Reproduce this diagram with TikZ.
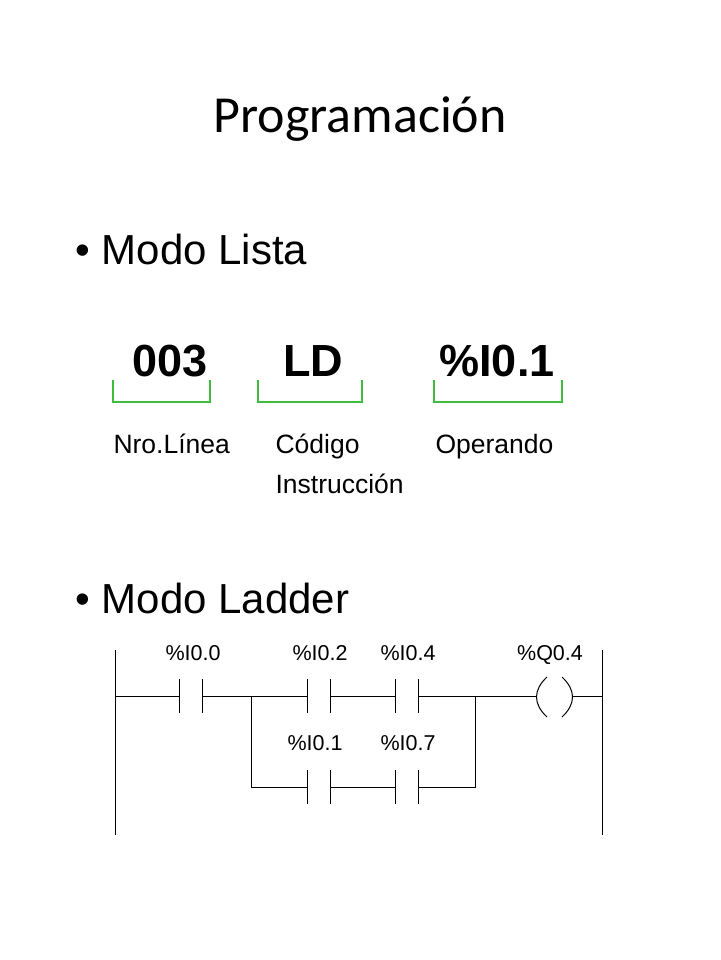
\documentclass[tikz,border=0pt]{standalone}
\usepackage{fontspec}
\setmainfont{Liberation Sans}
\newfontfamily\titlefont{Carlito}
\definecolor{brk}{RGB}{60,190,60}
\begin{document}
\begin{tikzpicture}[x=1pt,y=-1pt,
  brack/.style={draw=brk,line width=2.5pt},
  wire/.style={draw=black,line width=1pt},
  lbl/.style={font=\fontsize{21.5}{24}\selectfont,anchor=base},
  sub/.style={font=\fontsize{26.5}{30}\selectfont,anchor=base west},
  big/.style={font=\fontsize{45}{50}\selectfont\bfseries,anchor=base}]
\useasboundingbox (0,0) rectangle (720,960);
\node[font=\titlefont\fontsize{52}{60}\selectfont,anchor=base] (title) at (360,133) {Programación};
\node[font=\fontsize{42}{48}\selectfont,anchor=base west] (b1) at (72,264) {\textbullet\ Modo Lista};
\node[font=\fontsize{42}{48}\selectfont,anchor=base west] (b2) at (72,613) {\textbullet\ Modo Ladder};
\node[big] (n1) at (170,376) {003};
\node[big] (n2) at (313,376) {LD};
\node[big] (n3) at (497,376) {\%I0.1};
\draw[brack] (113,380) |- (210,402) -- (210,380);
\draw[brack] (258,380) |- (362,402) -- (362,380);
\draw[brack] (434,380) |- (562,402) -- (562,380);
\node[sub] (s1) at (110,453) {Nro.Línea};
\node[sub] (s2) at (272,453) {Código};
\node[sub] (s3) at (272,493) {Instrucción};
\node[sub] (s4) at (432,453) {Operando};
% ladder
\coordinate (L1) at (115,650); \coordinate (L2) at (115,835);
\coordinate (R1) at (602,650); \coordinate (R2) at (602,835);
\draw[wire] (L1) -- (L2); \draw[wire] (R1) -- (R2);
\newcommand\contact[3]{\draw[wire] (#1,#2-17) -- (#1,#2+17); \draw[wire] (#1+23,#2-17) -- (#1+23,#2+17);}
\contact{179}{696}{} \contact{307}{696}{} \contact{395}{696}{}
\contact{307}{787}{} \contact{395}{787}{}
\draw[wire] (115,696) -- (179,696) (202,696) -- (307,696) (330,696) -- (395,696) (418,696) -- (537,696) (572,696) -- (602,696);
\draw[wire] (251,696) |- (307,787) (330,787) -- (395,787) (418,787) -| (475,696);
\draw[wire] (547,677) .. controls (533,690) and (533,704) .. (547,717);
\draw[wire] (562,677) .. controls (576,690) and (576,704) .. (562,717);
\node[lbl] (c1) at (193,660) {\%I0.0};
\node[lbl] (c2) at (320,660) {\%I0.2};
\node[lbl] (c3) at (408,660) {\%I0.4};
\node[lbl] (c4) at (550,660) {\%Q0.4};
\node[lbl] (c5) at (315,750) {\%I0.1};
\node[lbl] (c6) at (408,750) {\%I0.7};
\end{tikzpicture}
\end{document}
